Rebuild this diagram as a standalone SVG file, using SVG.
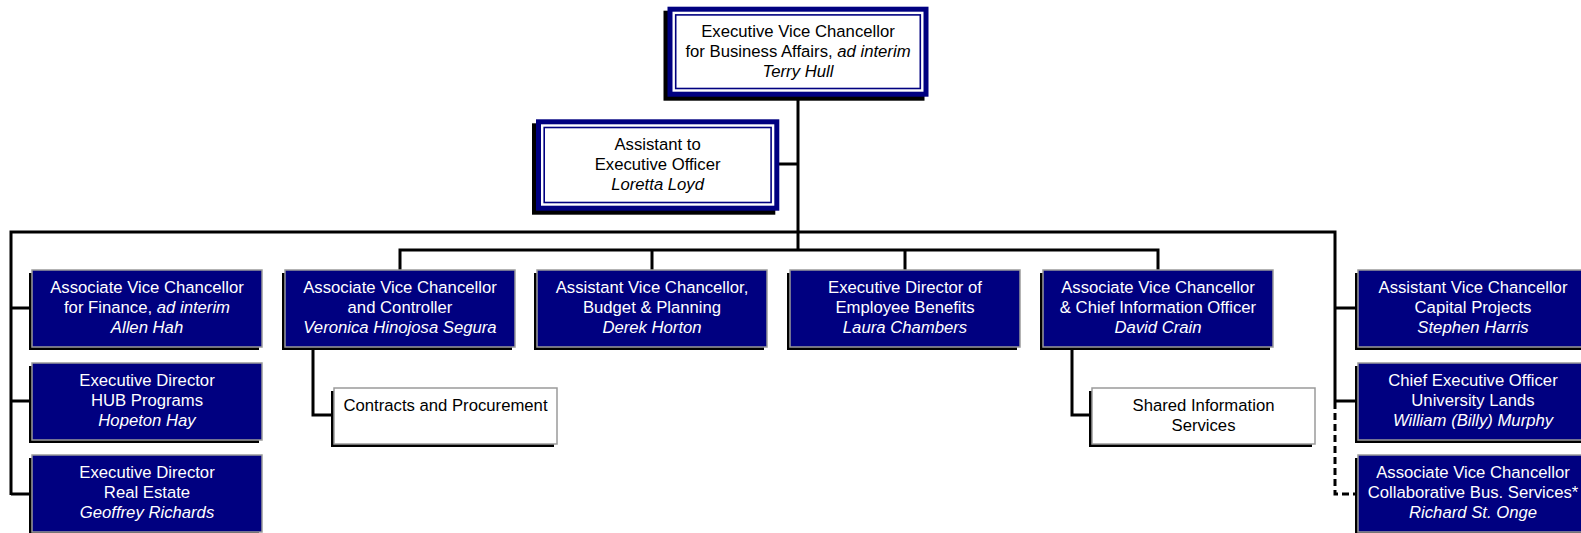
<svg xmlns="http://www.w3.org/2000/svg" width="1581" height="533" viewBox="0 0 1581 533">
<style>
text{font-family:"Liberation Sans",Arial,sans-serif;font-size:16.7px;text-anchor:middle}
.w{fill:#ffffff}
.k{fill:#000000}
.i{font-style:italic}
.shadow{fill:#000000}
.navy{fill:#000080;stroke:#9a9a9a;stroke-width:1.5}
.white{fill:#ffffff;stroke:#9a9a9a;stroke-width:1.5}
.c{fill:none;stroke:#000000;stroke-width:3}
.d{fill:none;stroke:#000000;stroke-width:3;stroke-dasharray:7 4}
</style>
<rect width="1581" height="533" fill="#ffffff"/>
<g id="connectors">
<path class="c" d="M798 97V250"/>
<path class="c" d="M779 164H798"/>
<path class="c" d="M11 495V232H1335V402"/>
<path class="c" d="M11 308H32M11 401H32M11 494H32"/>
<path class="c" d="M400 270V250H1158V270M652 250V270M905 250V270"/>
<path class="c" d="M1335 308H1358M1335 401H1358"/>
<path class="d" d="M1335 402V494H1358"/>
<path class="c" d="M313 349V415H334"/>
<path class="c" d="M1072 349V415H1092"/>
</g>
<g id="evc">
<rect class="shadow" x="663.5" y="10.7" width="261" height="90"/>
<rect x="667.5" y="6.7" width="261" height="90" fill="#000080"/>
<rect x="672.5" y="11.7" width="251" height="80" fill="#ffffff"/>
<rect x="675.7" y="14.9" width="244.6" height="73.6" fill="none" stroke="#000080" stroke-width="1.6"/>
<text x="798" y="37" class="k">Executive Vice Chancellor</text>
<text x="798" y="57" class="k">for Business Affairs, <tspan class="i">ad interim</tspan></text>
<text x="798" y="77" class="k i">Terry Hull</text>
</g>
<g id="assistant">
<rect class="shadow" x="532" y="123.3" width="243.3" height="91.4"/>
<rect x="536" y="119.3" width="243.3" height="91.4" fill="#000080"/>
<rect x="541" y="124.3" width="233.3" height="81.4" fill="#ffffff"/>
<rect x="544.2" y="127.5" width="226.9" height="75" fill="none" stroke="#000080" stroke-width="1.6"/>
<text x="657.6" y="150" class="k">Assistant to</text>
<text x="657.6" y="170" class="k">Executive Officer</text>
<text x="657.6" y="190" class="k i">Loretta Loyd</text>
</g>
<g id="finance">
<rect class="shadow" x="29" y="273" width="230" height="77"/>
<rect class="navy" x="32" y="270" width="230" height="77"/>
<text x="147" y="293" class="w">Associate Vice Chancellor</text>
<text x="147" y="313" class="w">for Finance, <tspan class="i">ad interim</tspan></text>
<text x="147" y="333" class="w i">Allen Hah</text>
</g>
<g id="hub">
<rect class="shadow" x="29" y="366" width="230" height="77"/>
<rect class="navy" x="32" y="363" width="230" height="77"/>
<text x="147" y="386" class="w">Executive Director</text>
<text x="147" y="406" class="w">HUB Programs</text>
<text x="147" y="426" class="w i">Hopeton Hay</text>
</g>
<g id="realestate">
<rect class="shadow" x="29" y="458" width="230" height="77"/>
<rect class="navy" x="32" y="455" width="230" height="77"/>
<text x="147" y="478" class="w">Executive Director</text>
<text x="147" y="498" class="w">Real Estate</text>
<text x="147" y="518" class="w i">Geoffrey Richards</text>
</g>
<g id="controller">
<rect class="shadow" x="282" y="273" width="230" height="77"/>
<rect class="navy" x="285" y="270" width="230" height="77"/>
<text x="400" y="293" class="w">Associate Vice Chancellor</text>
<text x="400" y="313" class="w">and Controller</text>
<text x="400" y="333" class="w i">Veronica Hinojosa Segura</text>
</g>
<g id="budget">
<rect class="shadow" x="534" y="273" width="230" height="77"/>
<rect class="navy" x="537" y="270" width="230" height="77"/>
<text x="652" y="293" class="w">Assistant Vice Chancellor,</text>
<text x="652" y="313" class="w">Budget &amp; Planning</text>
<text x="652" y="333" class="w i">Derek Horton</text>
</g>
<g id="benefits">
<rect class="shadow" x="787" y="273" width="230" height="77"/>
<rect class="navy" x="790" y="270" width="230" height="77"/>
<text x="905" y="293" class="w">Executive Director of</text>
<text x="905" y="313" class="w">Employee Benefits</text>
<text x="905" y="333" class="w i">Laura Chambers</text>
</g>
<g id="cio">
<rect class="shadow" x="1040" y="273" width="230" height="77"/>
<rect class="navy" x="1043" y="270" width="230" height="77"/>
<text x="1158" y="293" class="w">Associate Vice Chancellor</text>
<text x="1158" y="313" class="w">&amp; Chief Information Officer</text>
<text x="1158" y="333" class="w i">David Crain</text>
</g>
<g id="contracts">
<rect class="shadow" x="331" y="391" width="223" height="56"/>
<rect class="white" x="334" y="388" width="223" height="56"/>
<text x="445.5" y="411" class="k">Contracts and Procurement</text>
</g>
<g id="shared">
<rect class="shadow" x="1089" y="391" width="223" height="56"/>
<rect class="white" x="1092" y="388" width="223" height="56"/>
<text x="1203.5" y="411" class="k">Shared Information</text>
<text x="1203.5" y="431" class="k">Services</text>
</g>
<g id="capital">
<rect class="shadow" x="1355" y="273" width="230" height="77"/>
<rect class="navy" x="1358" y="270" width="230" height="77"/>
<text x="1473" y="293" class="w">Assistant Vice Chancellor</text>
<text x="1473" y="313" class="w">Capital Projects</text>
<text x="1473" y="333" class="w i">Stephen Harris</text>
</g>
<g id="lands">
<rect class="shadow" x="1355" y="366" width="230" height="77"/>
<rect class="navy" x="1358" y="363" width="230" height="77"/>
<text x="1473" y="386" class="w">Chief Executive Officer</text>
<text x="1473" y="406" class="w">University Lands</text>
<text x="1473" y="426" class="w i">William (Billy) Murphy</text>
</g>
<g id="collaborative">
<rect class="shadow" x="1355" y="458" width="230" height="77"/>
<rect class="navy" x="1358" y="455" width="230" height="77"/>
<text x="1473" y="478" class="w">Associate Vice Chancellor</text>
<text x="1473" y="498" class="w">Collaborative Bus. Services*</text>
<text x="1473" y="518" class="w i">Richard St. Onge</text>
</g>
</svg>
